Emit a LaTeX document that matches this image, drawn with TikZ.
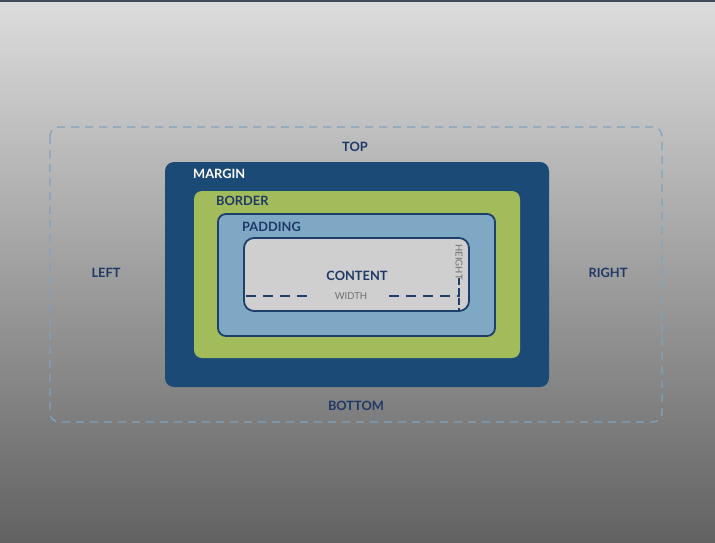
\documentclass[tikz,border=0pt]{standalone}
\usepackage{fontspec}
\setmainfont{Lato}
\begin{document}
\begin{tikzpicture}[x=1pt,y=-1pt,
  lbl/.style={font=\fontsize{12.8}{14}\selectfont\bfseries, text=navytxt, inner sep=0pt},
  dim/.style={font=\fontsize{9.5}{10}\selectfont, text=dimgray, inner sep=0pt},
  dashline/.style={draw=navyline, line width=1.8pt, dash pattern=on 10pt off 7pt}]
\definecolor{navytxt}{HTML}{1E3966}
\definecolor{navyline}{HTML}{1D3F6A}
\definecolor{marginc}{HTML}{1B4A76}
\definecolor{borderc}{HTML}{A2BC5C}
\definecolor{paddingc}{HTML}{7EA8C4}
\definecolor{contentc}{HTML}{CFCFCF}
\definecolor{outerc}{HTML}{7FA3BE}
\definecolor{dimgray}{HTML}{6E6E6E}
\definecolor{bgtop}{HTML}{DCDCDC}
\definecolor{bgmid}{HTML}{ABABAB}
\definecolor{bgbot}{HTML}{626262}
\definecolor{topline}{HTML}{3C4A5A}
\useasboundingbox (0,0) rectangle (715,542);
\shade[top color=bgtop, middle color=bgmid, bottom color=bgbot] (0,0) rectangle (715,542);
\fill[topline] (0,0) rectangle (715,2);
% outer dashed margin area
\draw[outerc, line width=1.2pt, dash pattern=on 8pt off 6pt, rounded corners=9pt] (50,127) rectangle (662,422);
% boxes
\fill[marginc, rounded corners=9pt] (165,162) rectangle (549,387);
\fill[borderc, rounded corners=8pt] (194,191) rectangle (520,358);
\draw[navyline, fill=paddingc, line width=1.8pt, rounded corners=8pt] (218,214) rectangle (495,336);
\draw[navyline, fill=contentc, line width=1.8pt, rounded corners=10pt] (244,238) rectangle (469,311);
% labels
\node[lbl] (top) at (355,147) {TOP};
\node[lbl] (left) at (106,273) {LEFT};
\node[lbl] (right) at (608,273) {RIGHT};
\node[lbl] (bottom) at (356,406) {BOTTOM};
\node[lbl, text=white, anchor=west] (margin) at (193,174) {MARGIN};
\node[lbl, anchor=west] (border) at (216,201) {BORDER};
\node[lbl, anchor=west] (padding) at (242,227) {PADDING};
\node[lbl] (content) at (357,276) {CONTENT};
\node[dim] (width) at (351,296) {WIDTH};
\node[dim, rotate=-90] (height) at (459,262) {HEIGHT};
% dimension lines
\coordinate (wl) at (246,296);
\coordinate (wr) at (460,296);
\draw[dashline] (wl) -- ([xshift=-22pt]width.west);
\draw[dashline] ([xshift=22pt]width.east) -- (wr);
\coordinate (hb) at (459,311);
\draw[navyline, line width=1.8pt, dash pattern=on 7pt off 3pt] ([yshift=2pt]height.east) -- (hb);
\end{tikzpicture}
\end{document}
